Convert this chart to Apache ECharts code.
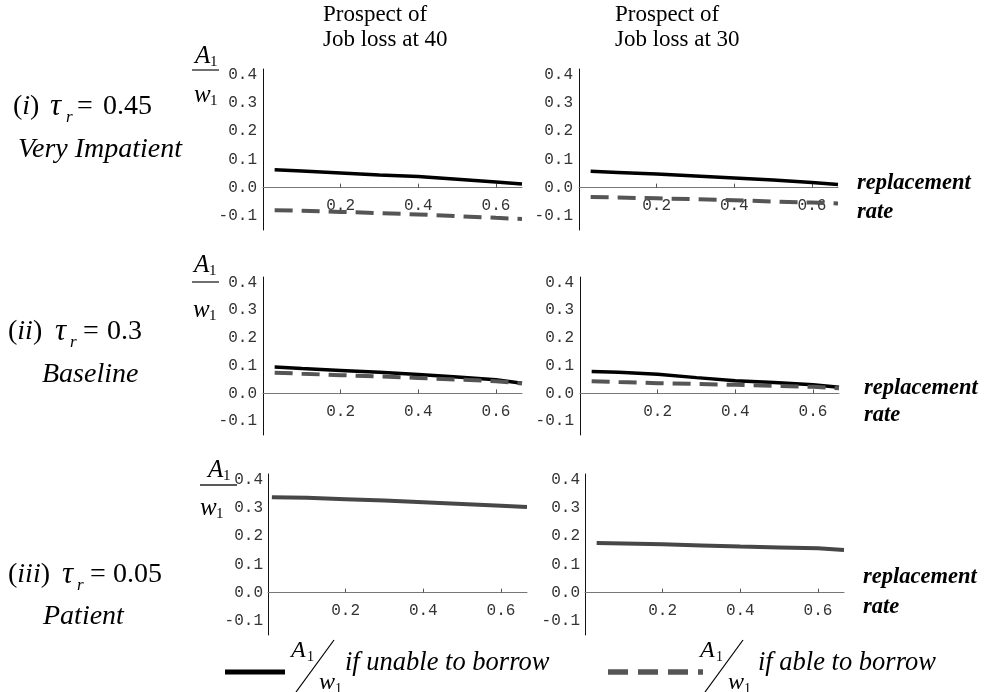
<!DOCTYPE html>
<html><head><meta charset="utf-8">
<script src="https://cdn.jsdelivr.net/npm/echarts@6/dist/echarts.min.js"></script>
<style>html,body{margin:0;padding:0;background:#fff}#c{width:985px;height:692px}</style>
</head><body><div id="c"></div>
<script>
// replacement rate (x) sample points
const rates = [0.03, 0.1, 0.2, 0.3, 0.4, 0.5, 0.6, 0.667];
const ratesPatient40 = [0.01, 0.1, 0.2, 0.3, 0.4, 0.5, 0.6, 0.667];
// tick labels
const xTicks = [0.2, 0.4, 0.6];
const yTicks = [-0.1, 0.0, 0.1, 0.2, 0.3, 0.4];
const colTitles = [['Prospect of', 'Job loss at 40'], ['Prospect of', 'Job loss at 30']];
// (i) very impatient, tau_r = 0.45
const impatient40Unable = [0.063, 0.059, 0.052, 0.045, 0.039, 0.030, 0.020, 0.013];
const impatient40Able   = [-0.080, -0.082, -0.086, -0.090, -0.095, -0.101, -0.107, -0.111];
const impatient30Unable = [0.058, 0.054, 0.048, 0.041, 0.034, 0.027, 0.018, 0.011];
const impatient30Able   = [-0.033, -0.035, -0.038, -0.041, -0.045, -0.049, -0.053, -0.056];
// (ii) baseline, tau_r = 0.3
const baseline40Unable = [0.095, 0.090, 0.083, 0.076, 0.068, 0.059, 0.049, 0.037];
const baseline40Able   = [0.075, 0.071, 0.066, 0.061, 0.056, 0.050, 0.044, 0.036];
const baseline30Unable = [0.079, 0.076, 0.069, 0.057, 0.046, 0.039, 0.031, 0.022];
const baseline30Able   = [0.044, 0.041, 0.037, 0.034, 0.031, 0.027, 0.024, 0.019];
// (iii) patient, tau_r = 0.05 (both curves coincide)
const patient40 = [0.338, 0.336, 0.331, 0.326, 0.320, 0.314, 0.308, 0.303];
const patient30 = [0.176, 0.174, 0.171, 0.167, 0.163, 0.160, 0.157, 0.151];

const zip = (xs, ys) => xs.map((x, i) => [x, ys[i]]);

const Y_MIN = -0.15, Y_MAX = 0.42;
const grids = [
  {left: 263, top: 69, width: 259, height: 161},
  {left: 579, top: 69, width: 259, height: 161},
  {left: 263, top: 277, width: 259, height: 158},
  {left: 580, top: 277, width: 259, height: 158},
  {left: 268, top: 474, width: 259, height: 161},
  {left: 585, top: 474, width: 259, height: 161}
];
const MONO = '"Liberation Mono", monospace';
const SERIF = '"Liberation Serif", "Times New Roman", serif';

const xAxes = grids.map((g, i) => ({
  type: 'value', gridIndex: i, min: 0, max: 0.667, position: 'bottom',
  // place the axis at y = 0 (distance from the grid bottom)
  offset: -g.height * (0 - Y_MIN) / (Y_MAX - Y_MIN),
  axisLine: {onZero: false, lineStyle: {color: '#777', width: 1}},
  axisTick: {show: true, inside: true, length: 4, customValues: xTicks, lineStyle: {color: '#555'}},
  axisLabel: {customValues: xTicks, formatter: v => v.toFixed(1), margin: 10,
    fontFamily: MONO, fontSize: 16, color: '#333'},
  splitLine: {show: false}
}));
const yAxes = grids.map((g, i) => ({
  type: 'value', gridIndex: i, min: Y_MIN, max: Y_MAX,
  axisLine: {show: true, onZero: false, lineStyle: {color: '#111', width: 1}},
  axisTick: {show: false},
  axisLabel: {customValues: yTicks, formatter: v => v.toFixed(1), margin: i === 4 || i === 5 ? 5 : 6,
    fontFamily: MONO, fontSize: 16, color: '#333'},
  splitLine: {show: false}
}));

const solid = (i, xs, ys) => ({type: 'line', xAxisIndex: i, yAxisIndex: i, data: zip(xs, ys),
  showSymbol: false, silent: true, lineStyle: {color: '#000', width: 3.5}});
const dashed = (i, xs, ys) => ({type: 'line', xAxisIndex: i, yAxisIndex: i, data: zip(xs, ys),
  showSymbol: false, silent: true, lineStyle: {color: '#555', width: 4, type: [18, 9]}});
const grey = (i, xs, ys) => ({type: 'line', xAxisIndex: i, yAxisIndex: i, data: zip(xs, ys),
  showSymbol: false, silent: true, lineStyle: {color: '#474747', width: 4}});

const series = [
  solid(0, rates, impatient40Unable), dashed(0, rates, impatient40Able),
  solid(1, rates, impatient30Unable), dashed(1, rates, impatient30Able),
  solid(2, rates, baseline40Unable), dashed(2, rates, baseline40Able),
  solid(3, rates, baseline30Unable), dashed(3, rates, baseline30Able),
  grey(4, ratesPatient40, patient40),
  grey(5, rates, patient30)
];

function T(x, y, text, font, align) {
  return {type: 'text', x: x, y: y, silent: true,
    style: {text: text, font: font, fill: '#000', align: align || 'left', verticalAlign: 'middle',
      textAlign: align || 'left', textVerticalAlign: 'middle'}};
}
function L(x1, y1, x2, y2, w, color, dash) {
  const st = {stroke: color || '#000', lineWidth: w || 1.2};
  if (dash) st.lineDash = dash;
  return {type: 'line', silent: true, shape: {x1, y1, x2, y2}, style: st};
}
const R = '28px ' + SERIF, RI = 'italic 28px ' + SERIF, TAU = 'italic 31px ' + SERIF, SUB = 'italic 17px ' + SERIF;
const g = [];
// column titles
colTitles.forEach((t, c) => {
  const x = c === 0 ? 323 : 615;
  g.push(T(x, 15, t[0], '23px ' + SERIF));
  g.push(T(x, 40, t[1], '23px ' + SERIF));
});
// row labels
const rowDefs = [
  {y: 107, open: 13, roman: 'i', tau: 50, r: 66, eq: 77, num: 103, val: '0.45', sub: 'Very Impatient', subX: 18, subY: 150},
  {y: 332, open: 8, roman: 'ii', tau: 55, r: 70, eq: 83, num: 107, val: '0.3', sub: 'Baseline', subX: 42, subY: 375},
  {y: 575, open: 8, roman: 'iii', tau: 62, r: 77, eq: 90, num: 113, val: '0.05', sub: 'Patient', subX: 43, subY: 617}
];
rowDefs.forEach(d => {
  const e = T(d.open, d.y, '{n|(}{i|' + d.roman + '}{n|)}', R);
  e.style.rich = {n: {font: R, fill: '#000'}, i: {font: RI, fill: '#000'}};
  g.push(e);
  g.push(T(d.tau, d.y, 'τ', TAU));
  g.push(T(d.r, d.y + 11, 'r', SUB));
  g.push(T(d.eq, d.y, '=', R));
  g.push(T(d.num, d.y, d.val, R));
  g.push(T(d.subX, d.subY, d.sub, RI));
});
// A1/w1 axis labels
const fracs = [
  {ax: 195, wx: 194, bar: 70, b1: 192, b2: 219, ay: 56, wy: 95},
  {ax: 194, wx: 193, bar: 282, b1: 192, b2: 219, ay: 265, wy: 310},
  {ax: 208, wx: 200, bar: 485, b1: 200, b2: 237, ay: 470, wy: 508}
];
const FI = 'italic 25px ' + SERIF, F1 = '15px ' + SERIF;
fracs.forEach(f => {
  g.push(T(f.ax, f.ay, 'A', FI));
  g.push(T(f.ax + 15, f.ay + 6, '1', F1));
  g.push(L(f.b1, f.bar, f.b2, f.bar, 1.3, '#222'));
  g.push(T(f.wx, f.wy, 'w', FI));
  g.push(T(f.wx + 16, f.wy + 6, '1', F1));
});
// replacement rate labels
const BI = 'italic bold 22.5px ' + SERIF;
[[857, 183, 212], [864, 388, 415], [863, 577, 607]].forEach(p => {
  g.push(T(p[0], p[1], 'replacement', BI));
  g.push(T(p[0], p[2], 'rate', BI));
});
// legend
function legendFrac(x, textX, label) {
  g.push(T(x, 651, 'A', 'italic 24px ' + SERIF));
  g.push(T(x + 16, 657, '1', '14px ' + SERIF));
  g.push(L(x + 5, 692, x + 43, 640, 1.2, '#000'));
  g.push(T(x + 28, 683, 'w', 'italic 24px ' + SERIF));
  g.push(T(x + 44, 689, '1', '14px ' + SERIF));
  g.push(T(textX, 663, label, 'italic 26.5px ' + SERIF));
}
g.push(L(225, 672, 285, 672, 5, '#000'));
legendFrac(291, 345, 'if unable to borrow');
g.push(L(608, 672, 703, 672, 5.5, '#555', [20, 10]));
legendFrac(700, 758, 'if able to borrow');

const chart = echarts.init(document.getElementById('c'), null, {renderer: 'canvas'});
chart.setOption({
  animation: false,
  backgroundColor: '#fff',
  grid: grids,
  xAxis: xAxes,
  yAxis: yAxes,
  series: series,
  graphic: g
});
</script>
</body></html>
